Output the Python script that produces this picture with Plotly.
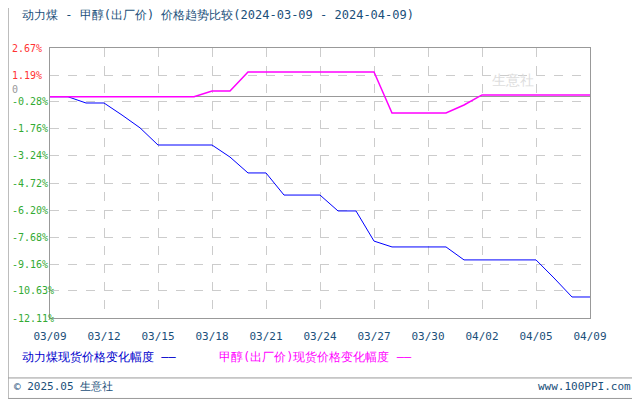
import plotly.graph_objects as go

days = list(range(31))
coal = [0, 0, -0.34, -0.34, -1.0, -1.7, -2.64, -2.64, -2.64, -2.64, -3.3,
        -4.17, -4.17, -5.38, -5.38, -5.38, -6.25, -6.25, -7.9, -8.22, -8.22,
        -8.22, -8.22, -8.93, -8.93, -8.93, -8.93, -8.93, -9.92, -10.96, -10.96]
methanol = [0, 0, 0, 0, 0, 0, 0, 0, 0, 0.32, 0.32, 1.36, 1.36, 1.36, 1.36,
            1.36, 1.36, 1.36, 1.36, -0.89, -0.89, -0.89, -0.89, -0.45, 0.1,
            0.1, 0.1, 0.1, 0.1, 0.1, 0.1]
tick_pos = [0, 3, 6, 9, 12, 15, 18, 21, 24, 27, 30]
tick_text = ["03/09", "03/12", "03/15", "03/18", "03/21", "03/24", "03/27",
             "03/30", "04/02", "04/05", "04/09"]
y_ticks = [2.67, 1.19, -0.28, -1.76, -3.24, -4.72, -6.20, -7.68, -9.16, -10.63, -12.11]

font = "DejaVu Sans Mono"
fig = go.Figure()
fig.add_trace(go.Scatter(x=days, y=coal, mode="lines", line=dict(color="#0000ff", width=1)))
fig.add_trace(go.Scatter(x=days, y=methanol, mode="lines", line=dict(color="#ff00ff", width=1.5)))

# y tick labels as annotations (left-aligned, coloured by sign)
ylabels = [dict(text=f"{v:.2f}%", x=-0.074, y=v, xref="paper", yref="y", xanchor="left",
                showarrow=False, font=dict(color="#ff3333" if v > 0 else "#33aa33", size=10))
           for v in y_ticks]

# page body has an 8px margin, so the figure is a bit smaller and shifted
fig.update_layout(
    width=632, height=392, showlegend=False,
    paper_bgcolor="white", plot_bgcolor="white",
    margin=dict(l=42, r=50, t=40, b=82),
    font=dict(family=font, size=11),
    xaxis=dict(range=[0, 30], tickvals=tick_pos, ticktext=tick_text, showgrid=True,
               gridcolor="#cccccc", griddash="dash", tickfont=dict(color="#1a4f7a"),
               showline=True, linecolor="#999999", mirror=True, zeroline=False, ticks="",
               automargin=False, ticklabelstandoff=8),
    yaxis=dict(range=[-12.11, 2.67], tickvals=y_ticks, showticklabels=False, showgrid=True,
               gridcolor="#cccccc", griddash="dash", showline=True, linecolor="#999999",
               mirror=True, zeroline=True, zerolinecolor="#999999", zerolinewidth=1,
               automargin=False),
    shapes=[dict(type="rect", xref="paper", yref="paper", x0=-0.0775, x1=1.0905,
                 y0=-0.298, y1=1.176, line=dict(color="#999999", width=1)),
            dict(type="line", xref="paper", yref="paper", x0=-0.0775, x1=1.0905,
                 y0=-0.222, y1=-0.222, line=dict(color="#999999", width=1))],
    annotations=ylabels + [
        dict(text="动力煤 - 甲醇(出厂价) 价格趋势比较(2024-03-09 - 2024-04-09)", x=-0.055, y=1.122,
             xref="paper", yref="paper", xanchor="left", yanchor="middle", showarrow=False,
             font=dict(color="#1a4f7a", size=12)),
        dict(text="动力煤现货价格变化幅度 ——", x=-0.055, y=-0.144,
             xref="paper", yref="paper", xanchor="left", yanchor="middle", showarrow=False,
             font=dict(color="#0000cc", size=12)),
        dict(text="甲醇(出厂价)现货价格变化幅度 ——", x=0.31, y=-0.144,
             xref="paper", yref="paper", xanchor="left", yanchor="middle", showarrow=False,
             font=dict(color="#ff00ff", size=12)),
        dict(text="© 2025.05 生意社", x=-0.07, y=-0.255, xref="paper", yref="paper",
             xanchor="left", yanchor="middle", showarrow=False, font=dict(color="#1a4f7a", size=11)),
        dict(text="www.100PPI.com", x=1.08, y=-0.255, xref="paper", yref="paper",
             xanchor="right", yanchor="middle", showarrow=False, font=dict(color="#1a4f7a", size=11)),
        dict(text="0", x=-0.074, y=0, xref="paper", yref="y", xanchor="left",
             yanchor="bottom", showarrow=False, font=dict(color="#999999", size=10)),
        dict(text="生意社", x=0.9, y=0.92, xref="paper", yref="paper", showarrow=False,
             font=dict(color="#dddddd", size=14)),
    ],
)
fig.write_html("out.html")
